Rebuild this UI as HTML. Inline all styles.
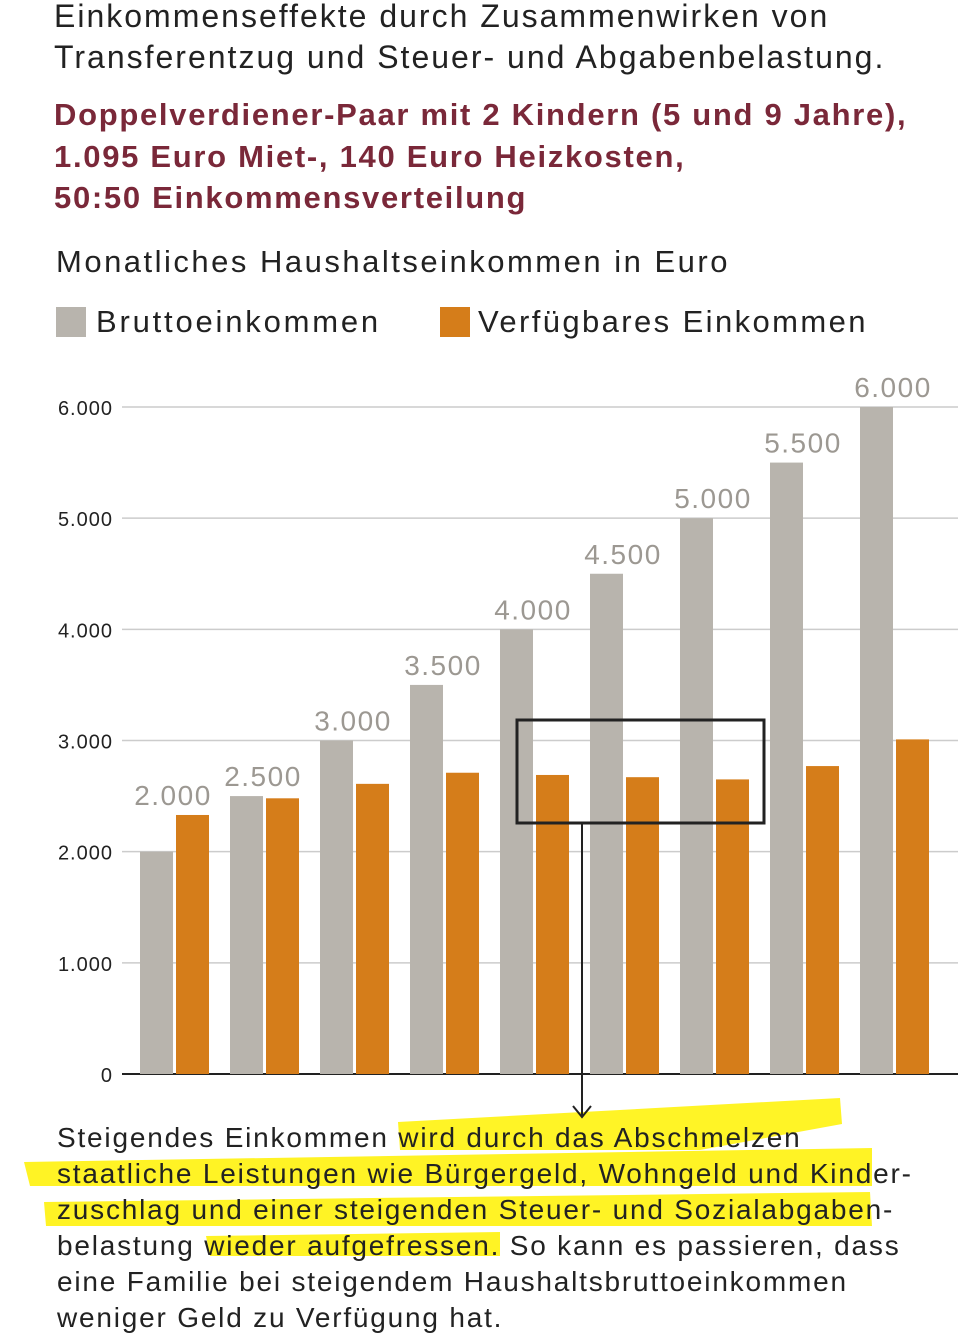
<!DOCTYPE html>
<html><head><meta charset="utf-8"><style>
body{margin:0;width:958px;height:1332px;overflow:hidden;background:#fff;font-family:"Liberation Sans",sans-serif;position:relative}
.t{position:absolute;white-space:nowrap;color:#222}
</style></head><body>
<svg id="hl" width="958" height="1332" style="position:absolute;left:0;top:0">
<g fill="#fff200" opacity="0.85">
<polygon points="398,1122 840,1098 842,1124 700,1150 400,1150"/>
<polygon points="24,1162 872,1148 872,1186 30,1186"/>
<polygon points="44,1202 870,1192 872,1226 500,1226 46,1226"/>
<polygon points="206,1236 500,1232 500,1256 210,1256"/>
</g>
</svg>
<div class="t" style="left:54px;top:-4px;font-size:32px;letter-spacing:2px;line-height:41px;color:#222">Einkommenseffekte durch Zusammenwirken von<br>Transferentzug und Steuer- und Abgabenbelastung.</div>
<div class="t" style="left:54px;top:94px;font-size:31px;letter-spacing:1.7px;line-height:41.5px;font-weight:bold;color:#7a2839">Doppelverdiener-Paar mit 2 Kindern (5 und 9 Jahre),<br>1.095 Euro Miet-, 140 Euro Heizkosten,<br>50:50 Einkommensverteilung</div>
<div class="t" style="left:56px;top:242px;font-size:31px;letter-spacing:2.5px;line-height:40px">Monatliches Haushaltseinkommen in Euro</div>
<div style="position:absolute;left:56px;top:307px;width:30px;height:30px;background:#b8b4ad"></div>
<div class="t" style="left:96px;top:302px;font-size:31px;letter-spacing:2.8px;line-height:40px">Bruttoeinkommen</div>
<div style="position:absolute;left:440px;top:307px;width:30px;height:30px;background:#d57d1a"></div>
<div class="t" style="left:478px;top:302px;font-size:31px;letter-spacing:2.4px;line-height:40px">Verfügbares Einkommen</div>
<svg id="chart" width="958" height="1332" style="position:absolute;left:0;top:0"></svg>
<div class="t" style="left:57px;top:1120px;font-size:28px;letter-spacing:1.8px;line-height:36px;color:#222">Steigendes Einkommen wird durch das Abschmelzen<br>staatliche Leistungen wie Bürgergeld, Wohngeld und Kinder-<br>zuschlag und einer steigenden Steuer- und Sozialabgaben-<br>belastung wieder aufgefressen. So kann es passieren, dass<br>eine Familie bei steigendem Haushaltsbruttoeinkommen<br>weniger Geld zu Verfügung hat.</div>
<script>
const categories=["2.000","2.500","3.000","3.500","4.000","4.500","5.000","5.500","6.000"];
const brutto=[2000,2500,3000,3500,4000,4500,5000,5500,6000];
const verfuegbar=[2330,2480,2610,2710,2690,2670,2650,2770,3010];
const ticks=[0,1000,2000,3000,4000,5000,6000];
const tickLabels=["0","1.000","2.000","3.000","4.000","5.000","6.000"];
const NS="http://www.w3.org/2000/svg",svg=document.getElementById('chart');
const y=v=>1074-v*(667/6000), x=i=>140+i*90;
function mk(t,a,p){const e=document.createElementNS(NS,t);for(const k in a)e.setAttribute(k,a[k]);(p||svg).appendChild(e);return e;}
ticks.forEach((t,i)=>{
 const l=mk('line',{x1:122,x2:958,y1:y(t),y2:y(t),stroke:t===0?'#222':'#ccc','stroke-width':t===0?2:1.5});
 
 
 const tx=mk('text',{x:113,y:y(t)+8,'text-anchor':'end','font-size':20,'letter-spacing':1,fill:'#222','font-family':'Liberation Sans'});
 tx.textContent=tickLabels[i];
 
 
});
categories.forEach((c,i)=>{
 const b=mk('rect',{x:x(i),y:y(brutto[i]),width:33,height:y(0)-y(brutto[i]),fill:'#b8b4ad'});
 
 
 const o=mk('rect',{x:x(i)+36,y:y(verfuegbar[i]),width:33,height:y(0)-y(verfuegbar[i]),fill:'#d57d1a'});
 
 
 const top=y(Math.max(brutto[i],verfuegbar[i]));
 const lb=mk('text',{x:x(i)+33,y:top-10,'text-anchor':'middle','font-size':28,'letter-spacing':1.5,fill:'#9c9892','font-family':'Liberation Sans'});
 lb.textContent=c;
 
 
});
const box=mk('rect',{x:517,y:720,width:247,height:103,fill:'none',stroke:'#222','stroke-width':3});


const ar=mk('path',{d:'M582,823 L582,1117 M573,1106 L582,1117 L591,1106',fill:'none',stroke:'#222','stroke-width':2});


</script>
</body></html>
